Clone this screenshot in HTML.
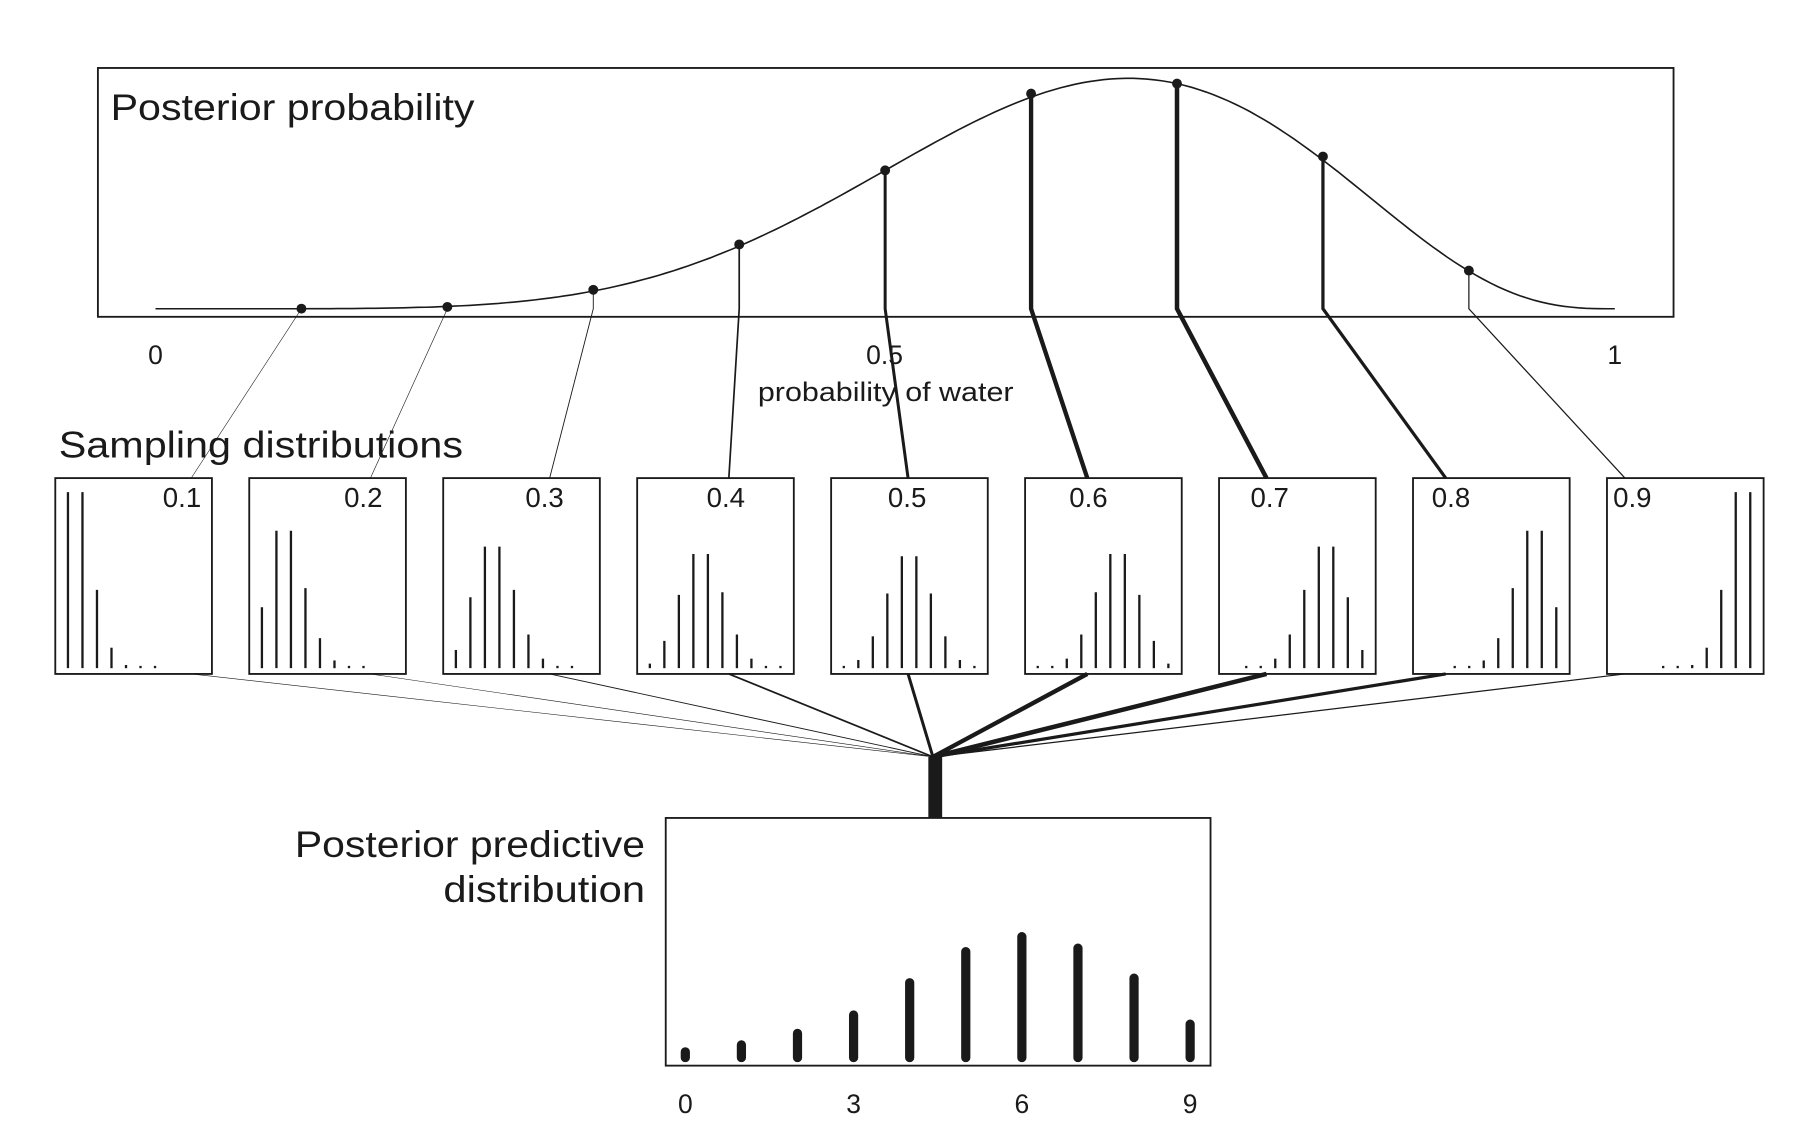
<!DOCTYPE html>
<html><head><meta charset="utf-8"><style>
html,body{margin:0;padding:0;background:#fff;}
svg{display:block;font-family:"Liberation Sans",Arial,sans-serif;}
</style></head><body>
<svg id="chart" width="1806" height="1129" viewBox="0 0 1568 980" preserveAspectRatio="none" xmlns="http://www.w3.org/2000/svg">
<rect x="0" y="0" width="1568" height="980" fill="#fff"/>
<rect x="85" y="59" width="1368" height="216" fill="none" stroke="#1a1a1a" stroke-width="1.6"/>
<text x="96" y="104" font-size="32" textLength="316" lengthAdjust="spacingAndGlyphs" fill="#1a1a1a">Posterior probability</text>
<text x="135" y="316" font-size="23" text-anchor="middle" fill="#1a1a1a">0</text>
<text x="768" y="316" font-size="23" text-anchor="middle" fill="#1a1a1a">0.5</text>
<text x="1402" y="316" font-size="23" text-anchor="middle" fill="#1a1a1a">1</text>
<text x="658" y="348" font-size="23" textLength="222" lengthAdjust="spacingAndGlyphs" fill="#1a1a1a">probability of water</text>
<text x="51" y="397" font-size="32" textLength="351" lengthAdjust="spacingAndGlyphs" fill="#1a1a1a">Sampling distributions</text>
<text x="256" y="744" font-size="32" textLength="304" lengthAdjust="spacingAndGlyphs" fill="#1a1a1a">Posterior predictive</text>
<text x="385" y="783" font-size="32" textLength="175" lengthAdjust="spacingAndGlyphs" fill="#1a1a1a">distribution</text>
<rect x="578" y="710" width="473" height="215" fill="none" stroke="#1a1a1a" stroke-width="1.6"/>
<g id="g"></g>
</svg>
<script>
const pValues = [0.1,0.2,0.3,0.4,0.5,0.6,0.7,0.8,0.9];
const posteriorAtP = [0.0004,0.0079,0.0822,0.2791,0.6008,0.9339,0.9770,0.6606,0.1655];
const samplingDists = [
 [0.387,0.387,0.172,0.045,0.007,0.0008,0.00006,0,0,0],
 [0.134,0.302,0.302,0.176,0.066,0.017,0.003,0.0003,0,0],
 [0.040,0.156,0.267,0.267,0.172,0.074,0.021,0.004,0.0004,0],
 [0.010,0.060,0.161,0.251,0.251,0.167,0.074,0.021,0.004,0.0003],
 [0.002,0.018,0.070,0.164,0.246,0.246,0.164,0.070,0.018,0.002],
 [0.0003,0.004,0.021,0.074,0.167,0.251,0.251,0.161,0.060,0.010],
 [0,0.0004,0.004,0.021,0.074,0.172,0.267,0.267,0.156,0.040],
 [0,0,0.0003,0.003,0.017,0.066,0.176,0.302,0.302,0.134],
 [0,0,0,0.00006,0.0008,0.007,0.045,0.172,0.387,0.387]
];
const predictiveCounts = [0,1,2,3,4,5,6,7,8,9];
const predictiveValues = [0.005,0.011,0.021,0.037,0.065,0.092,0.105,0.095,0.069,0.029];
const predictiveTicks = [0,3,6,9];

const NS="http://www.w3.org/2000/svg";
const g=document.getElementById('g');
function mk(t,a){const e=document.createElementNS(NS,t);for(const k in a)e.setAttribute(k,a[k]);g.appendChild(e);return e;}
const xP=p=>135+p*(1402-135);
const yP=d=>268-d*200;
let pts=[];
const fmax=Math.pow(2/3,6)*Math.pow(1/3,3);
for(let i=0;i<=200;i++){const p=i/200;const d=Math.pow(p,6)*Math.pow(1-p,3)/fmax;pts.push(xP(p).toFixed(1)+','+yP(d).toFixed(1));}
const curve=mk('polyline',{points:pts.join(' '),fill:'none',stroke:'#1a1a1a','stroke-width':1.4});


const boxX=i=>48+i*168.4, boxW=136, boxTop=415, boxBot=585;
const joinX=810, joinY=657;
pValues.forEach((p,i)=>{
  const w=0.5+posteriorAtP[i]*3.5;
  const px=xP(p), py=yP(posteriorAtP[i]);
  const attach=166+i*155.6;
  const conn=mk('polyline',{points:`${px},${py} ${px},268 ${attach},${boxTop}`,fill:'none',stroke:'#1a1a1a','stroke-width':w});
  
  
  const dot=mk('circle',{cx:px,cy:py,r:4.3,fill:'#1a1a1a'});
  
  
  const bx=boxX(i);
  const box=mk('rect',{x:bx,y:boxTop,width:boxW,height:boxBot-boxTop,fill:'none',stroke:'#1a1a1a','stroke-width':1.6});
  
  
  const lb=mk('text',{x:158+i*157.4,y:440,'font-size':24,'text-anchor':'middle',fill:'#1a1a1a'});
  lb.textContent=p.toFixed(1);
  
  
  samplingDists[i].forEach((v,k)=>{
    if(v<=0)return;
    const h=Math.max(2,v*395);
    const x=bx+11+k*12.6;
    const b=mk('line',{x1:x,x2:x,y1:580,y2:580-h,stroke:'#1a1a1a','stroke-width':2});
    
    
  });
  const lo=mk('line',{x1:attach,y1:boxBot,x2:joinX,y2:joinY,stroke:'#1a1a1a','stroke-width':w});
  
  
});
const stem=mk('rect',{x:806,y:657,width:12,height:53,fill:'#1a1a1a'});


const xC=c=>595+c*48.7;
const yV=v=>918-v*1000;
predictiveCounts.forEach((c,i)=>{
  const b=mk('line',{x1:xC(c),x2:xC(c),y1:918,y2:yV(predictiveValues[i]),stroke:'#1a1a1a','stroke-width':8,'stroke-linecap':'round'});
  
  
});
predictiveTicks.forEach(t=>{
  const tx=mk('text',{x:xC(t),y:966,'font-size':23,'text-anchor':'middle',fill:'#1a1a1a'});
  tx.textContent=t;
  
  
});
</script>
</body></html>
